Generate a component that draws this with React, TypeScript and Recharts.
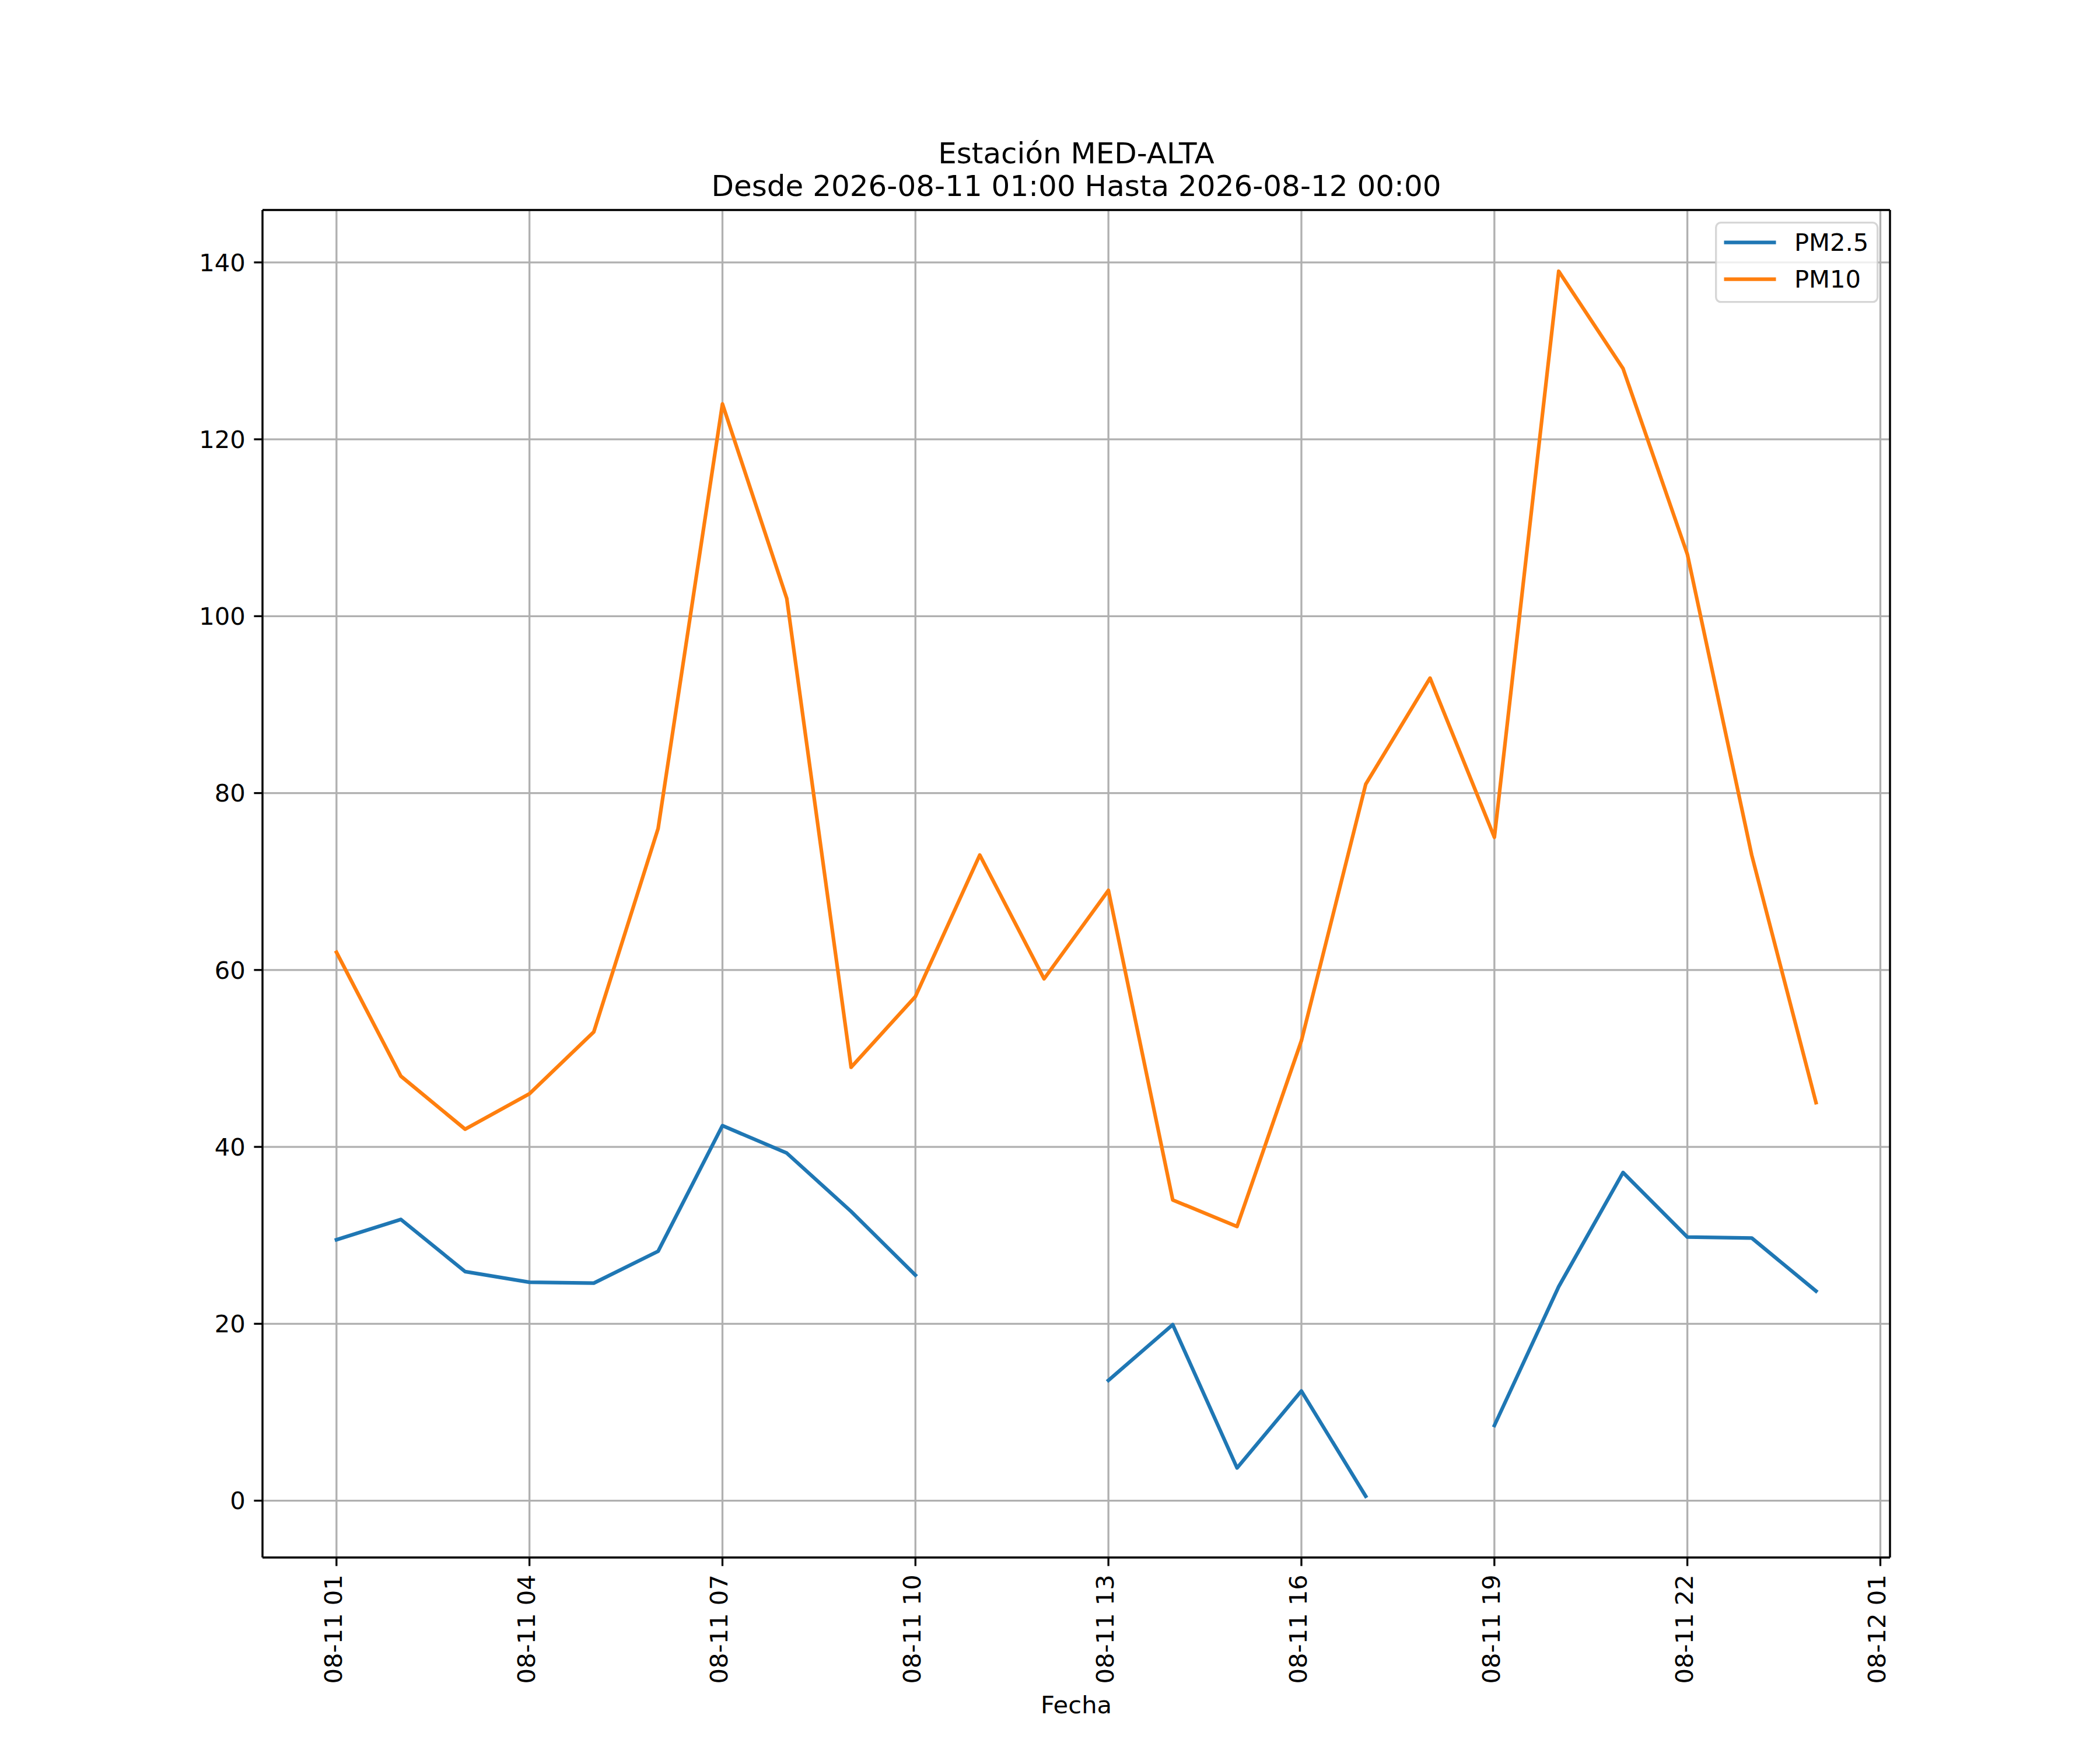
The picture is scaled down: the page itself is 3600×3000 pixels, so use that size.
import React from 'react';
import { LineChart, Line, XAxis, YAxis, CartesianGrid, Legend } from 'recharts';

// ---- data ----
const hours = [1, 2, 3, 4, 5, 6, 7, 8, 9, 10, 11, 12, 13, 14, 15, 16, 17, 18, 19, 20, 21, 22, 23, 24];
const pm25 = [29.5, 31.8, 25.9, 24.7, 24.6, 28.2, 42.4, 39.3, 32.7, 25.5, null, null, 13.6, 19.9, 3.7, 12.4, 0.5, null, 8.5, 24.2, 37.1, 29.8, 29.7, 23.7];
const pm10 = [62, 48, 42, 46, 53, 76, 124, 102, 49, 57, 73, 59, 69, 34, 31, 52, 81, 93, 75, 139, 128, 107, 73, 45];

const xTickValues = [1, 4, 7, 10, 13, 16, 19, 22, 25];
const xTickLabels = ['08-11 01', '08-11 04', '08-11 07', '08-11 10', '08-11 13', '08-11 16', '08-11 19', '08-11 22', '08-12 01'];
const yTicks = [0, 20, 40, 60, 80, 100, 120, 140];

const seriesNames = ['PM2.5', 'PM10'];
const seriesColors = ['#1f77b4', '#ff7f0e'];

const titleLines = ['Estación MED-ALTA', 'Desde 2026-08-11 01:00 Hasta 2026-08-12 00:00'];
const xLabel = 'Fecha';

const data = hours.map((h, i) => ({ h, pm25: pm25[i], pm10: pm10[i] }));

// ---- style ----
const FONT = '"DejaVu Sans", sans-serif';
const FS = 41.67;
const LW = 3.33;

const XTick = (props: any) => {
  const { x, y, payload } = props;
  const idx = xTickValues.indexOf(payload.value);
  const label = idx >= 0 ? xTickLabels[idx] : String(payload.value);
  return (
    <text
      x={x}
      y={y}
      dy={9}
      transform={`rotate(-90 ${x} ${y})`}
      textAnchor="end"
      fontFamily={FONT}
      fontSize={FS}
      fill="#000"
    >
      {label}
    </text>
  );
};

const LegendBox = () => (
  <svg width={282} height={142} style={{ display: 'block', overflow: 'visible' }}>
    <rect x={1.67} y={1.67} width={277} height={136} rx={8.3} ry={8.3}
      fill="rgba(255,255,255,0.8)" stroke="rgba(204,204,204,0.8)" strokeWidth={LW} />
    {seriesNames.map((n, i) => (
      <g key={n}>
        <line x1={15.5} x2={104.5} y1={35.7 + i * 63} y2={35.7 + i * 63}
          stroke={seriesColors[i]} strokeWidth={6.25} />
        <text x={136} y={50 + i * 63} fontFamily={FONT} fontSize={FS} fill="#000">{n}</text>
      </g>
    ))}
  </svg>
);

export default function App() {
  return (
    <div style={{ position: 'relative', width: 3600, height: 3000, background: '#fff' }}>
      <style>{'body{margin:0;background:#fff}'}</style>
      <LineChart
        width={3600}
        height={3000}
        data={data}
        margin={{ top: 359, right: 359, bottom: 80, left: 300 }}
      >
        <CartesianGrid stroke="#b0b0b0" strokeWidth={LW} />
        <XAxis
          dataKey="h"
          type="number"
          domain={[-0.15, 25.15]}
          allowDataOverflow
          ticks={xTickValues}
          interval={0}
          tick={<XTick />}
          tickSize={14.6}
          tickMargin={14.6}
          height={250}
          axisLine={{ stroke: '#000', strokeWidth: LW }}
          tickLine={{ stroke: '#000', strokeWidth: LW }}
        />
        <XAxis
          xAxisId="top"
          orientation="top"
          type="number"
          domain={[-0.15, 25.15]}
          allowDataOverflow
          height={1}
          tick={false}
          tickLine={false}
          axisLine={{ stroke: '#000', strokeWidth: LW }}
        />
        <YAxis
          type="number"
          domain={[-6.425, 145.925]}
          allowDataOverflow
          ticks={yTicks}
          interval={0}
          width={150}
          tickSize={14.6}
          tickMargin={14.6}
          tick={{ fontFamily: FONT, fontSize: FS, fill: '#000' }}
          axisLine={{ stroke: '#000', strokeWidth: LW }}
          tickLine={{ stroke: '#000', strokeWidth: LW }}
        />
        <YAxis
          yAxisId="right"
          orientation="right"
          type="number"
          domain={[-6.425, 145.925]}
          allowDataOverflow
          width={1}
          tick={false}
          tickLine={false}
          axisLine={{ stroke: '#000', strokeWidth: LW }}
        />
        <Line
          dataKey="pm25"
          name={seriesNames[0]}
          stroke={seriesColors[0]}
          strokeWidth={6.25}
          dot={false}
          activeDot={false}
          connectNulls={false}
          strokeLinejoin="round"
          strokeLinecap="square"
          isAnimationActive={false}
        />
        <Line
          dataKey="pm10"
          name={seriesNames[1]}
          stroke={seriesColors[1]}
          strokeWidth={6.25}
          dot={false}
          activeDot={false}
          strokeLinejoin="round"
          strokeLinecap="square"
          isAnimationActive={false}
        />
        <Legend
          layout="vertical"
          align="center"
          verticalAlign="middle"
          wrapperStyle={{ position: 'absolute', left: 2940, top: 380, width: 282, height: 142 }}
          content={() => <LegendBox />}
        />
      </LineChart>
      <svg width={3600} height={3000}
        style={{ position: 'absolute', left: 0, top: 0, pointerEvents: 'none' }}>
        <text x={1845} y={280} textAnchor="middle" fontFamily={FONT} fontSize={50} fill="#000">{titleLines[0]}</text>
        <text x={1845} y={336} textAnchor="middle" fontFamily={FONT} fontSize={50} fill="#000">{titleLines[1]}</text>
        <text x={1845} y={2937} textAnchor="middle" fontFamily={FONT} fontSize={FS} fill="#000">{xLabel}</text>
      </svg>
    </div>
  );
}
